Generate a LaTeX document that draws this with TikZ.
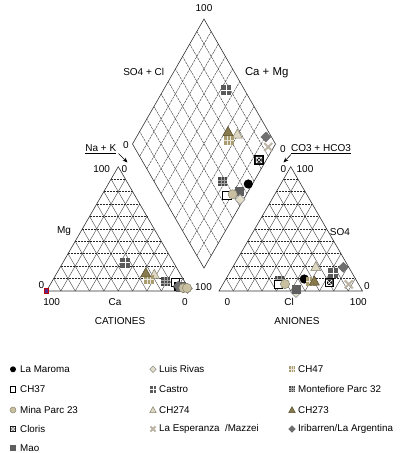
\documentclass[tikz,border=0pt]{standalone}
\usepackage{fontspec}
\setmainfont{Liberation Sans}
\usetikzlibrary{calc,arrows.meta}
\definecolor{tanc}{HTML}{C8C0A0}
\definecolor{tanb}{HTML}{8A8470}
\definecolor{lighttan}{HTML}{DCD8C4}
\definecolor{ch47c}{HTML}{A89C70}
\definecolor{ch273c}{HTML}{877A4C}
\definecolor{ch273b}{HTML}{5A5030}
\definecolor{castroc}{HTML}{5A5A5A}
\definecolor{montc}{HTML}{4A4A4A}
\definecolor{maoc}{HTML}{5E5E5E}
\definecolor{iric}{HTML}{707070}
\definecolor{xcol}{HTML}{BCB4A4}
\definecolor{luisc}{HTML}{E2DECA}
\definecolor{purpc}{HTML}{5A2A8C}
\tikzset{
  maroma/.pic={\fill[black] (0,0) circle (4.6);},
  ch37/.pic={\filldraw[fill=white,draw=black,line width=0.6pt] (-4.2,-4.2) rectangle (4.2,4.2);},
  mina/.pic={\filldraw[fill=tanc,draw=tanb,line width=0.5pt] (0,0) circle (4.6);},
  cloris/.pic={\fill[black] (-4.6,-4.6) rectangle (4.6,4.6);
    \draw[white,line width=0.6pt] (-2.8,-2.8) rectangle (2.8,2.8) (-2.8,-2.8)--(2.8,2.8) (-2.8,2.8)--(2.8,-2.8);},
  mao/.pic={\fill[maoc] (-4.6,-4.6) rectangle (4.6,4.6);},
  luis/.pic={\filldraw[fill=luisc,draw=black!45,line width=0.5pt] (0,-5)--(5,0)--(0,5)--(-5,0)--cycle;},
  castro/.pic={\fill[castroc] (-5,-5) rectangle (5,5);
    \draw[white,line width=1pt] (0,-5)--(0,5) (-5,0)--(5,0);},
  ch274/.pic={\filldraw[fill=lighttan,draw=tanb,line width=0.5pt] (-5,4)--(5,4)--(0,-5)--cycle;},
  esper/.pic={\draw[xcol,line width=2pt] (-4,-4)--(4,4) (-4,4)--(4,-4);},
  ch47/.pic={\fill[ch47c] (-4.6,-4.6) rectangle (4.6,4.6);
    \draw[white!75!ch47c,line width=0.5pt] (-1.6,-4.6)--(-1.6,4.6) (1.6,-4.6)--(1.6,4.6) (-4.6,0)--(4.6,0);},
  mont/.pic={\fill[montc] (-4.6,-4.6) rectangle (4.6,4.6);
    \draw[black!35,line width=0.5pt] (-1.6,-4.6)--(-1.6,4.6) (1.6,-4.6)--(1.6,4.6) (-4.6,-1.6)--(4.6,-1.6) (-4.6,1.6)--(4.6,1.6);},
  ch273/.pic={\filldraw[fill=ch273c,draw=ch273b,line width=0.5pt] (-5,4)--(5,4)--(0,-5)--cycle;},
  iri/.pic={\filldraw[fill=iric,draw=black!60,line width=0.4pt] (0,-5)--(5,0)--(0,5)--(-5,0)--cycle;},
}
\begin{document}
\begin{tikzpicture}[x=1pt,y=-1pt,font=\fontsize{10}{12}\selectfont,
  edge/.style={line width=0.6pt,draw=black!80},
  hgrid/.style={line width=0.45pt,dash pattern=on 2pt off 1pt,draw=black!85},
  dgrid/.style={line width=0.4pt,draw=black!75},
  mgrid/.style={line width=0.45pt,dash pattern=on 2.5pt off 0.8pt,draw=black!75},
  lbl/.style={inner sep=0pt},
  leg/.style={inner sep=0pt,anchor=west,font=\fontsize{9.8}{12}\selectfont},
  arr/.style={-{Stealth[length=5pt,width=4pt]},line width=0.6pt}]
\useasboundingbox (0,0) rectangle (401,453);
% cation triangle
\coordinate (cL) at (46.5,291); \coordinate (cR) at (190,291); \coordinate (cT) at (118.25,166.7);
\foreach \i in {1,...,9}{
  \draw[hgrid] ($(cL)!\i/10!(cT)$) -- ($(cR)!\i/10!(cT)$);
  \draw[dgrid] ($(cL)!\i/10!(cR)$) -- ($(cT)!\i/10!(cR)$);
  \draw[dgrid] ($(cL)!\i/10!(cR)$) -- ($(cL)!\i/10!(cT)$);
}
\draw[edge] (cL)--(cR)--(cT)--cycle;
% anion triangle
\coordinate (aL) at (219,291); \coordinate (aR) at (362.5,291); \coordinate (aT) at (290.75,166.7);
\foreach \i in {1,...,9}{
  \draw[hgrid] ($(aL)!\i/10!(aT)$) -- ($(aR)!\i/10!(aT)$);
  \draw[dgrid] ($(aL)!\i/10!(aR)$) -- ($(aT)!\i/10!(aR)$);
  \draw[dgrid] ($(aL)!\i/10!(aR)$) -- ($(aL)!\i/10!(aT)$);
}
\draw[edge] (aL)--(aR)--(aT)--cycle;
% diamond
\coordinate (dB) at (204,268); \coordinate (dL) at (132.5,144); \coordinate (dR) at (275.5,144); \coordinate (dT) at (204,19);
\foreach \i in {1,...,9}{
  \draw[mgrid] ($(dB)!\i/10!(dL)$) -- ($(dR)!\i/10!(dT)$);
  \draw[mgrid] ($(dB)!\i/10!(dR)$) -- ($(dL)!\i/10!(dT)$);
}
\draw[edge] (dB)--(dL)--(dT)--(dR)--cycle;
% labels
\node[lbl] (t100) at (204,8) {100};
\node[lbl] (so4cl) at (143.7,72) {SO4 + Cl};
\node[lbl,font=\fontsize{11.4}{13}\selectfont] (camg) at (266.7,72.5) {Ca + Mg};
\node[lbl] (dl0) at (126,145.5) {0};
\node[lbl] (nak) at (100.8,149) {\underline{Na + K}};
\node[lbl] (dr0) at (283,149) {0};
\node[lbl] (co3) at (321,149) {\underline{CO3 + HCO3}};
\coordinate (nakA) at (118.5,153.5); \coordinate (nakB) at (127.5,162.5);
\draw[arr] (nakA) -- (nakB);
\coordinate (coA) at (291,154.5); \coordinate (coB) at (283.5,162.5);
\draw[arr] (coA) -- (coB);
\node[lbl] (c100t) at (101.7,169) {100};
\node[lbl] (c0t) at (124.3,169) {0};
\node[lbl] (mg) at (64,231) {Mg};
\node[lbl] (c0l) at (41.5,285) {0};
\node[lbl] (c100b) at (51.7,301.7) {100};
\node[lbl] (ca) at (115,301.7) {Ca};
\node[lbl] (c0b) at (185,301.7) {0};
\node[lbl] (m100) at (203.5,287) {100};
\node[lbl] (cat) at (120,321) {CATIONES};
\node[lbl] (a0t) at (283.3,169) {0};
\node[lbl] (a100t) at (305,169) {100};
\node[lbl] (so4) at (340,232.3) {SO4};
\node[lbl] (a0r) at (367,286) {0};
\node[lbl] (a0b) at (227.3,301.7) {0};
\node[lbl] (cl) at (289,301.7) {Cl};
\node[lbl] (a100b) at (358.3,301.7) {100};
\node[lbl] (ani) at (297,321) {ANIONES};
% cation points
\filldraw[fill=purpc,draw=red!75!black,line width=0.7pt] (44.3,288.8) rectangle (48.7,293.2);
\pic at (125,262.5) {castro};
\pic at (154.3,274.3) {ch274};
\pic at (149,279.5) {ch47};
\pic at (145.8,272.8) {ch273};
\pic at (165.5,281.5) {mont};
\pic at (175.5,282.5) {ch37};
\pic at (183,288) {maroma};
\pic at (179,286.5) {cloris};
\pic at (181,287) {mao};
\pic at (178.5,286) {iri};
\pic at (183.5,288) {mina};
\pic at (187.5,288.5) {luis};
\pic at (187,288) {mina};
% anion points
\pic at (279.3,281) {mont};
\pic at (278.3,284.3) {ch37};
\pic at (285,284) {mina};
\pic at (296,292.5) {luis};
\pic at (296.7,289.3) {mao};
\pic at (304.3,279) {maroma};
\pic at (311,281.7) {ch47};
\pic at (314.3,281) {ch273};
\pic at (315.7,266.7) {ch274};
\pic at (333.3,273.3) {castro};
\pic at (329.3,282.7) {cloris};
\pic at (343.3,267.3) {iri};
\pic at (348.7,284.3) {esper};
% diamond points
\pic at (226,90) {castro};
\pic at (237.3,134) {ch274};
\pic at (229,140) {ch47};
\pic at (228,131.5) {ch273};
\pic at (265.8,137) {iri};
\pic at (268.3,147) {esper};
\pic at (259,160) {cloris};
\pic at (248.3,184) {maroma};
\pic at (222.7,181.7) {mont};
\pic at (239.3,191.7) {mao};
\pic at (226.7,195) {ch37};
\pic at (232.7,194.3) {mina};
\pic at (240,199.5) {luis};
% legend
\pic[scale=0.65] at (13,369.3) {maroma}; \node[leg] (l1) at (20,369.3) {La Maroma};
\pic[scale=0.65] at (13,389.3) {ch37}; \node[leg] (l2) at (20,389.3) {CH37};
\pic[scale=0.65] at (13,410) {mina}; \node[leg] (l3) at (20,410) {Mina Parc 23};
\pic[scale=0.65] at (13,429) {cloris}; \node[leg] (l4) at (20,429) {Cloris};
\pic[scale=0.65] at (13,447.7) {mao}; \node[leg] (l5) at (20,447.7) {Mao};
\pic[scale=0.65] at (153,369.3) {luis}; \node[leg] (l6) at (159,369.3) {Luis Rivas};
\pic[scale=0.65] at (153,389.3) {castro}; \node[leg] (l7) at (159,389.3) {Castro};
\pic[scale=0.65] at (153,410) {ch274}; \node[leg] (l8) at (159,410) {CH274};
\pic[scale=0.65] at (153,429) {esper}; \node[leg] (l9) at (159,429) {La Esperanza\ \ /Mazzei};
\pic[scale=0.65] at (292,369.3) {ch47}; \node[leg] (l10) at (298,369.3) {CH47};
\pic[scale=0.65] at (292,389.3) {mont}; \node[leg] (l11) at (298,389.3) {Montefiore Parc 32};
\pic[scale=0.65] at (292,410) {ch273}; \node[leg] (l12) at (298,410) {CH273};
\pic[scale=0.65] at (292,429) {iri}; \node[leg] (l13) at (298,429) {Iribarren/La Argentina};
\end{tikzpicture}
\end{document}
